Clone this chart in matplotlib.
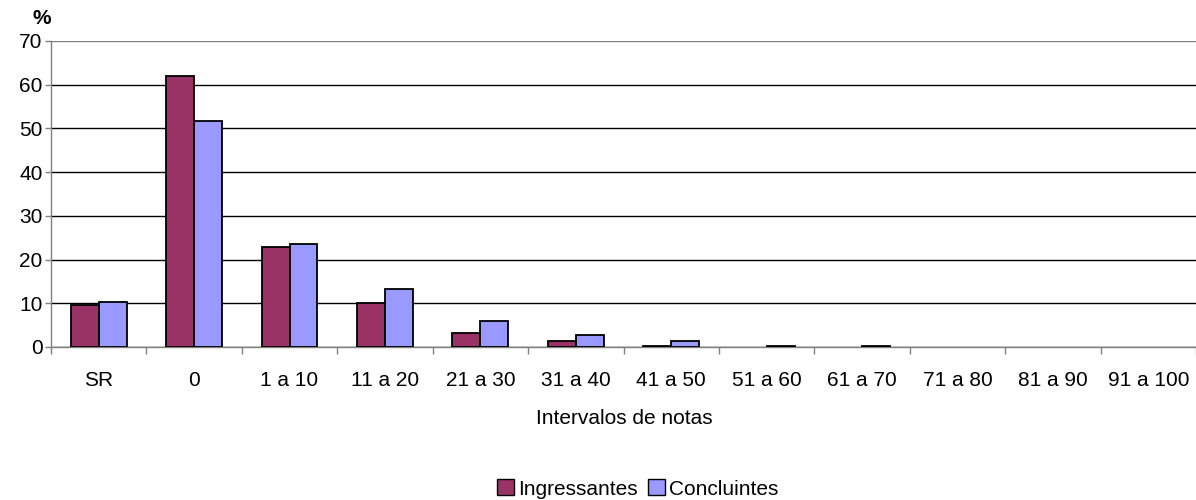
import matplotlib
matplotlib.use("Agg")
import matplotlib.pyplot as plt
import numpy as np
from matplotlib.patches import Patch

plt.rcParams['font.family'] = ['Liberation Sans', 'DejaVu Sans']

categories = ["SR", "0", "1 a 10", "11 a 20", "21 a 30", "31 a 40", "41 a 50",
              "51 a 60", "61 a 70", "71 a 80", "81 a 90", "91 a 100"]
ingressantes = [9.5, 61.9, 22.8, 10.0, 3.1, 1.4, 0.3, 0.0, 0.0, 0.0, 0.0, 0.0]
concluintes = [10.4, 51.8, 23.6, 13.2, 6.0, 2.7, 1.3, 0.3, 0.3, 0.0, 0.0, 0.0]
yticks = [0, 10, 20, 30, 40, 50, 60, 70]

FS = 15
W, H = 1196, 500
fig = plt.figure(figsize=(W / 100, H / 100), dpi=100)
ax = fig.add_axes([51 / W, 1 - 347 / H, (1196 - 51) / W, (347 - 41) / H])

x = np.arange(len(categories))
bw = 0.293
b1 = ax.bar(x - bw / 2, ingressantes, bw, color="#993366", edgecolor="black", linewidth=1.3, zorder=3)
b2 = ax.bar(x + bw / 2, concluintes, bw, color="#9999FF", edgecolor="black", linewidth=1.3, zorder=3)
for p in list(b1) + list(b2):
    if p.get_height() <= 0:
        p.set_visible(False)

ax.set_xlim(-0.5, len(categories) - 0.5)
ax.set_ylim(0, 70)
ax.set_yticks(yticks)
ax.set_yticklabels([str(v) for v in yticks], fontsize=FS)
ax.yaxis.grid(True, color="black", linewidth=1.0, zorder=0)
ax.set_axisbelow(True)
ax.get_ygridlines()[-1].set_color("#808080")

ax.set_xticks(np.arange(-0.5, len(categories), 1.0))
ax.set_xticklabels([])
ax.set_xticks(x, minor=True)
ax.set_xticklabels(categories, minor=True, fontsize=FS)
ax.tick_params(axis="x", which="major", length=5, color="#808080", width=1)
ax.tick_params(axis="x", which="minor", length=0, pad=17)
ax.tick_params(axis="y", length=4, color="#808080", width=1, pad=2)

for s in ["top", "right"]:
    ax.spines[s].set_visible(False)
ax.spines["left"].set_color("#808080")
ax.spines["bottom"].set_color("#808080")
ax.spines["left"].set_linewidth(1)
ax.spines["bottom"].set_linewidth(1)

fig.text(42 / W, 1 - 18 / H, "%", fontsize=FS, fontweight="bold", ha="center", va="center")
fig.text(624 / W, 1 - 419 / H, "Intervalos de notas", fontsize=FS, ha="center", va="center")

handles = [Patch(facecolor="#993366", edgecolor="black", linewidth=1),
           Patch(facecolor="#9999FF", edgecolor="black", linewidth=1)]
fig.legend(handles, ["Ingressantes", "Concluintes"], loc="center", bbox_to_anchor=(638 / W, 1 - 489 / H),
           ncol=2, frameon=False, fontsize=FS, handlelength=0.8, handleheight=0.8,
           handletextpad=0.2, columnspacing=0.5, borderpad=0)

fig.savefig("out.png", dpi=100)
